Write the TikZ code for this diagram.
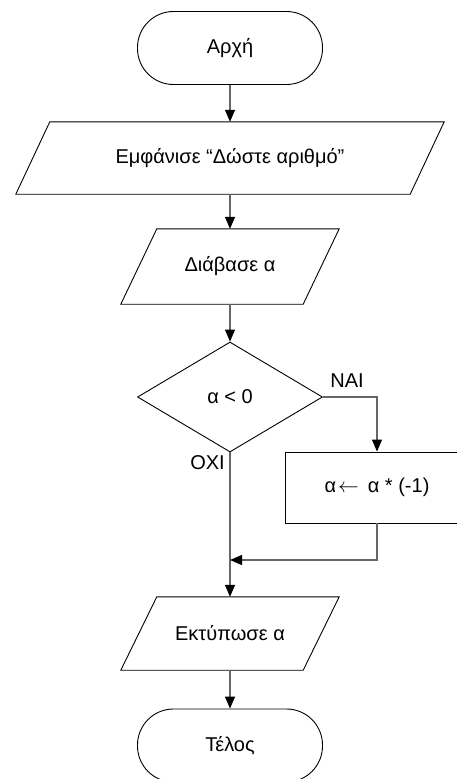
\documentclass[tikz,border=0pt]{standalone}
\usepackage{fontspec}
\setmainfont{Liberation Sans}
\usetikzlibrary{arrows.meta,shapes.geometric}

\tikzset{
  base/.style={font=\fontsize{20}{24}\selectfont, inner sep=0pt},
  terminal/.style={base, draw=black, line width=0.9pt, rectangle,
    rounded corners=36pt, minimum width=185pt, minimum height=73pt},
  iobox/.style={base, rectangle, minimum height=#1},
  procbox/.style={base, draw=black, line width=0.9pt, rectangle,
    minimum width=184pt, minimum height=71pt},
  decision/.style={base, draw=black, line width=0.9pt, diamond,
    minimum width=185pt, minimum height=110pt},
  flow/.style={draw=black!60, line width=1.2pt,
    -{Triangle[length=12pt,width=10pt,color=black]}},
  lbl/.style={base}
}

\begin{document}
\begin{tikzpicture}[x=1pt,y=-1pt]
  \useasboundingbox (0,0) rectangle (456,779);

  % start / end terminals
  \node[terminal] (start) at (230,48) {Αρχή};
  \node[terminal] (stop) at (230,745.5) {Τέλος};

  % input / output boxes (outline drawn below as parallelograms)
  \node[iobox=72pt, minimum width=394pt] (show) at (230,158) {Εμφάνισε “Δώστε αριθμό”};
  \node[iobox=75pt, minimum width=182pt] (read) at (230,266.5) {Διάβασε α};
  \node[iobox=73pt, minimum width=182pt] (print) at (230,633.5) {Εκτύπωσε α};

  \draw[black, line width=0.9pt]
    ([xshift=17pt]show.north west) -- ([xshift=17pt]show.north east)
    -- ([xshift=-17pt]show.south east) -- ([xshift=-17pt]show.south west) -- cycle;
  \draw[black, line width=0.9pt]
    ([xshift=18pt]read.north west) -- ([xshift=18pt]read.north east)
    -- ([xshift=-18pt]read.south east) -- ([xshift=-18pt]read.south west) -- cycle;
  \draw[black, line width=0.9pt]
    ([xshift=18pt]print.north west) -- ([xshift=18pt]print.north east)
    -- ([xshift=-18pt]print.south east) -- ([xshift=-18pt]print.south west) -- cycle;

  % decision and assignment
  \node[decision] (test) at (230,397) {α < 0};
  \node[procbox] (neg) at (377,487.5) {α\hspace{2pt}$\leftarrow$\hspace{9pt}α * (-1)};

  % connectors
  \draw[flow] (start.south) -- (show.north);
  \draw[flow] (show.south) -- (read.north);
  \draw[flow] (read.south) -- (test.north);
  \draw[flow] (test.east) -| (neg.north);
  \draw[flow] (test.south) -- (print.north);
  \coordinate (join) at (230,560);
  \draw[flow] (neg.south) |- (join);
  \draw[flow] (print.south) -- (stop.north);

  % branch labels
  \node[lbl] (yes) at (347,381) {NAI};
  \node[lbl, anchor=east] (no) at (225,463) {OXI};
\end{tikzpicture}
\end{document}
